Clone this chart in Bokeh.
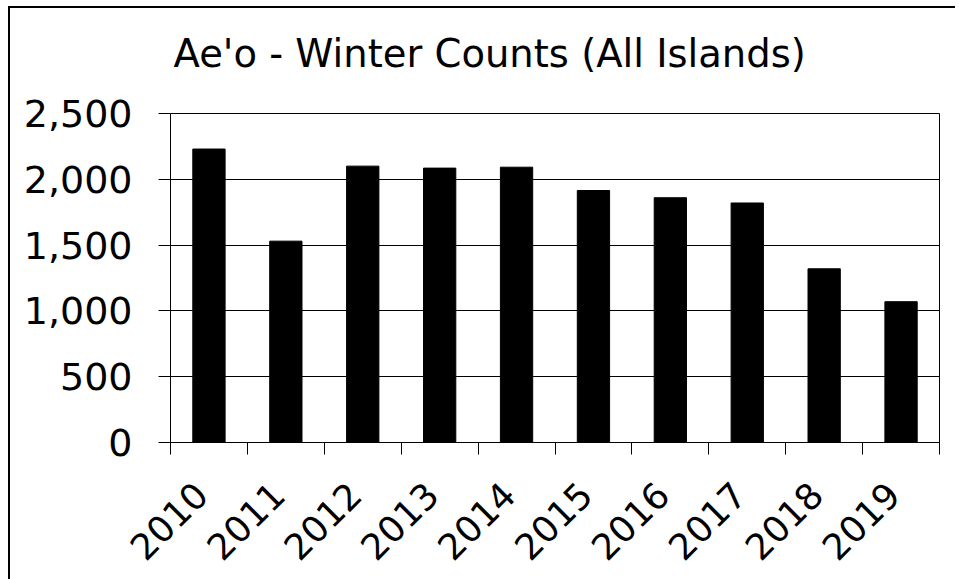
import math
from bokeh.plotting import figure
from bokeh.models import Range1d, LinearAxis, FixedTicker, NumeralTickFormatter, Title
from bokeh.embed import file_html
from bokeh.resources import INLINE

# ---- data ----
years = ["2010", "2011", "2012", "2013", "2014", "2015", "2016", "2017", "2018", "2019"]
counts = [2230, 1530, 2100, 2085, 2092, 1915, 1860, 1820, 1320, 1070]
y_ticks = [0, 500, 1000, 1500, 2000, 2500]
chart_title = "Ae'o - Winter Counts (All Islands)"

FONT = "DejaVu Sans"
n = len(years)
centers = [i + 0.5 for i in range(n)]
boundaries = list(range(n + 1))
label_shift = -0.1  # rotated labels sit slightly left of the category centre

p = figure(width=959, height=579, output_backend="svg", toolbar_location=None,
           x_range=Range1d(0, n), y_range=Range1d(0, y_ticks[-1]),
           x_axis_type=None,
           min_border_left=170, min_border_right=20, min_border_top=113, min_border_bottom=137)

# outer chart border (left and top edges), painted behind a transparent canvas border
p.styles = {
    "background-image": "linear-gradient(black, black), linear-gradient(black, black)",
    "background-size": "2px 579px, 947px 2px",
    "background-position": "8px 6px, 8px 6px",
    "background-repeat": "no-repeat",
}
p.border_fill_alpha = 0
p.background_fill_color = "white"

p.title.text = ""

# invisible spacer between the frame and the title
spacer = LinearAxis(ticker=FixedTicker(ticks=[0]), major_label_overrides={0: ""},
                    major_label_text_font_size="1px", major_label_standoff=0,
                    major_tick_out=38, major_tick_in=0, major_tick_line_color=None,
                    minor_tick_line_color=None, axis_line_color=None)
p.add_layout(spacer, "above")
p.add_layout(Title(text=chart_title, align="left", offset=3, text_font=FONT,
                   text_font_size="38.5px", text_font_style="normal", text_color="black",
                   standoff=0), "above")

p.vbar(x=centers, top=counts, width=0.42, fill_color="black", line_color="black")

# y axis
p.yaxis.ticker = FixedTicker(ticks=y_ticks)
p.yaxis.formatter = NumeralTickFormatter(format="0,0")
p.yaxis.major_tick_out = 12
p.yaxis.major_tick_in = 0
p.yaxis.minor_tick_line_color = None
p.yaxis.axis_line_color = "black"
p.yaxis.major_tick_line_color = "black"
p.yaxis.major_label_text_font = FONT
p.yaxis.major_label_text_font_size = "38px"
p.yaxis.major_label_text_color = "black"
p.yaxis.major_label_standoff = 26

p.ygrid.ticker = FixedTicker(ticks=y_ticks)
p.ygrid.grid_line_color = "black"
p.ygrid.grid_line_width = 1

# x axis: tick marks at category boundaries
tick_axis = LinearAxis(ticker=FixedTicker(ticks=boundaries),
                       major_label_overrides={b: "" for b in boundaries},
                       major_label_text_font_size="1px",
                       major_tick_out=12, major_tick_in=0, major_label_standoff=0,
                       minor_tick_line_color=None, axis_line_color="black",
                       major_tick_line_color="black")
# x axis: year labels at category centres
label_ticks = [c + label_shift for c in centers]
label_axis = LinearAxis(ticker=FixedTicker(ticks=label_ticks),
                        major_label_overrides={t: y for t, y in zip(label_ticks, years)},
                        major_tick_line_color=None, minor_tick_line_color=None,
                        axis_line_color=None,
                        major_label_orientation=math.pi / 4,
                        major_label_text_font=FONT, major_label_text_font_size="36px",
                        major_label_text_color="black", major_label_standoff=28)
p.add_layout(tick_axis, "below")
p.add_layout(label_axis, "below")

p.outline_line_color = "black"
p.outline_line_width = 1

open("out.html", "w").write(file_html(p, INLINE))
